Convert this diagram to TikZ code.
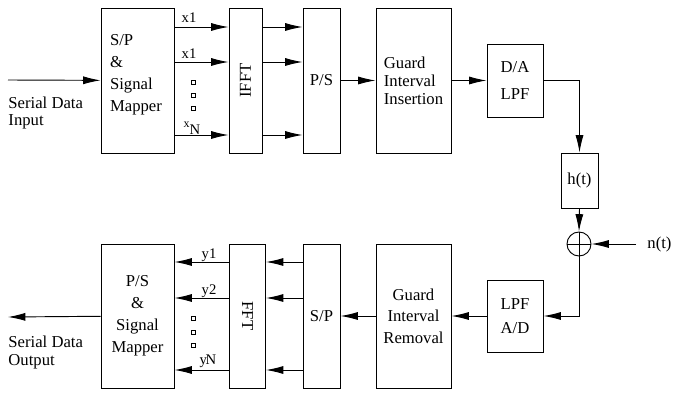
\documentclass[tikz,border=0pt]{standalone}
\usepackage{fontspec}
\setmainfont{Liberation Serif}
\usetikzlibrary{arrows.meta}

\begin{document}
\begin{tikzpicture}[x=0.75pt,y=-0.75pt,
		>={Latex[length=13pt,width=6pt]},
		every path/.style={line width=0.7pt},
		blk/.style={draw, inner sep=0pt, font=\fontsize{12.5}{15}\selectfont},
		lbl/.style={inner sep=0pt, font=\fontsize{12.5}{15}\selectfont},
		sml/.style={inner sep=0pt, font=\fontsize{11}{13}\selectfont}]
			\useasboundingbox (0,0) rectangle (674,395);
			% transmitter
			\node[blk, minimum width=54.75pt, minimum height=108.75pt] (map1) at (137.5,80.5) {};
			\node[lbl, align=left, font=\fontsize{12.5}{16.5}\selectfont] (map1txt) at (136,75) {S/P\\ \&\\ Signal\\ Mapper};
			\node[blk, minimum width=24.75pt, minimum height=108.75pt] (ifft) at (245.5,80.5) {};
			\node[lbl, rotate=90] (ifftlbl) at (ifft) {IFFT};
			\node[blk, minimum width=27.75pt, minimum height=108.75pt] (ps1) at (321.5,80.5) {P/S};
			\node[blk, minimum width=56.25pt, minimum height=108.75pt, align=left, font=\fontsize{12.5}{13.5}\selectfont] (gi) at (413.5,80.5) {Guard\\ Interval\\ Insertion};
			\node[blk, minimum width=42pt, minimum height=54.75pt, align=center, font=\fontsize{12.5}{20}\selectfont] (da) at (515,80.5) {D/A\\ LPF};
			\node[blk, minimum width=27.75pt, minimum height=41.25pt] (ht) at (579.5,180.5) {h(t)};
			\node[draw, circle, minimum size=18pt, inner sep=0pt] (add) at (579,244) {};
			\draw (add.north) -- (add.south) (add.west) -- (add.east);
			% receiver
			\node[blk, minimum width=42pt, minimum height=54pt, align=center, font=\fontsize{12.5}{18}\selectfont] (ad) at (515,316) {LPF\\ A/D};
			\node[blk, minimum width=56.25pt, minimum height=108pt, align=center, font=\fontsize{12.5}{16}\selectfont] (gr) at (413.5,316) {Guard\\ Interval\\ Removal};
			\node[blk, minimum width=27.75pt, minimum height=108pt] (sp2) at (321.5,316) {S/P};
			\node[blk, minimum width=27pt, minimum height=108pt] (fft) at (247.5,316) {};
			\node[lbl, rotate=-90] (fftlbl) at (fft) {FFT};
			\node[blk, minimum width=54.75pt, minimum height=108pt, align=center, font=\fontsize{12.5}{16.5}\selectfont] (map2) at (137.5,316) {P/S\\ \&\\ Signal\\ Mapper};
			% outside texts
			\coordinate (in) at (8,80);
			\coordinate (out) at (8,317);
			\coordinate (noise) at (636,244);
			\node[lbl, anchor=north west, align=left, font=\fontsize{12.5}{13}\selectfont] (intxt) at (8,96) {Serial Data\\ Input};
			\node[lbl, anchor=north west, align=left, font=\fontsize{12.5}{13.5}\selectfont] (outtxt) at (8,335) {Serial Data\\ Output};
			\node[lbl, anchor=west] (ntxt) at (647,244) {n(t)};
			% parallel lines
			\foreach \yy in {27,62,135} {
				\draw[->] (map1.east |- 0,\yy) -- (ifft.west |- 0,\yy);
				\draw[->] (ifft.east |- 0,\yy) -- (ps1.west |- 0,\yy);
			}
			\foreach \yy in {262,298,370} {
				\draw[->] (sp2.west |- 0,\yy) -- (fft.east |- 0,\yy);
				\draw[->] (fft.west |- 0,\yy) -- (map2.east |- 0,\yy);
			}
			\node[sml] (x1a) at (189,18) {x1};
			\node[sml] (x1b) at (189,54) {x1};
			\node[sml] (xn) at (192,128) {\raisebox{5pt}{\fontsize{9}{9}\selectfont x}N};
			\node[sml] (y1) at (209,255) {y1};
			\node[sml] (y2) at (209,291) {y2};
			\node[sml] (yn) at (208,361) {y\kern-1pt N};
			\foreach \yy in {82,95,108,318,332,345}
				\draw[line width=0.6pt] (191,\yy-2) rectangle (195,\yy+2);
			% serial path
			\draw[->] (in) -- (map1);
			\draw[->] (ps1) -- (gi);
			\draw[->] (gi) -- (da);
			\draw[->] (da.east) -| (ht.north);
			\draw[->] (ht.south) -- (add.north);
			\draw[->] (noise) -- (add.east);
			\draw[->] (add.south) |- (ad.east);
			\draw[->] (ad) -- (gr);
			\draw[->] (gr) -- (sp2);
			\draw[->] (map2) -- (out);
		\end{tikzpicture}
\end{document}
